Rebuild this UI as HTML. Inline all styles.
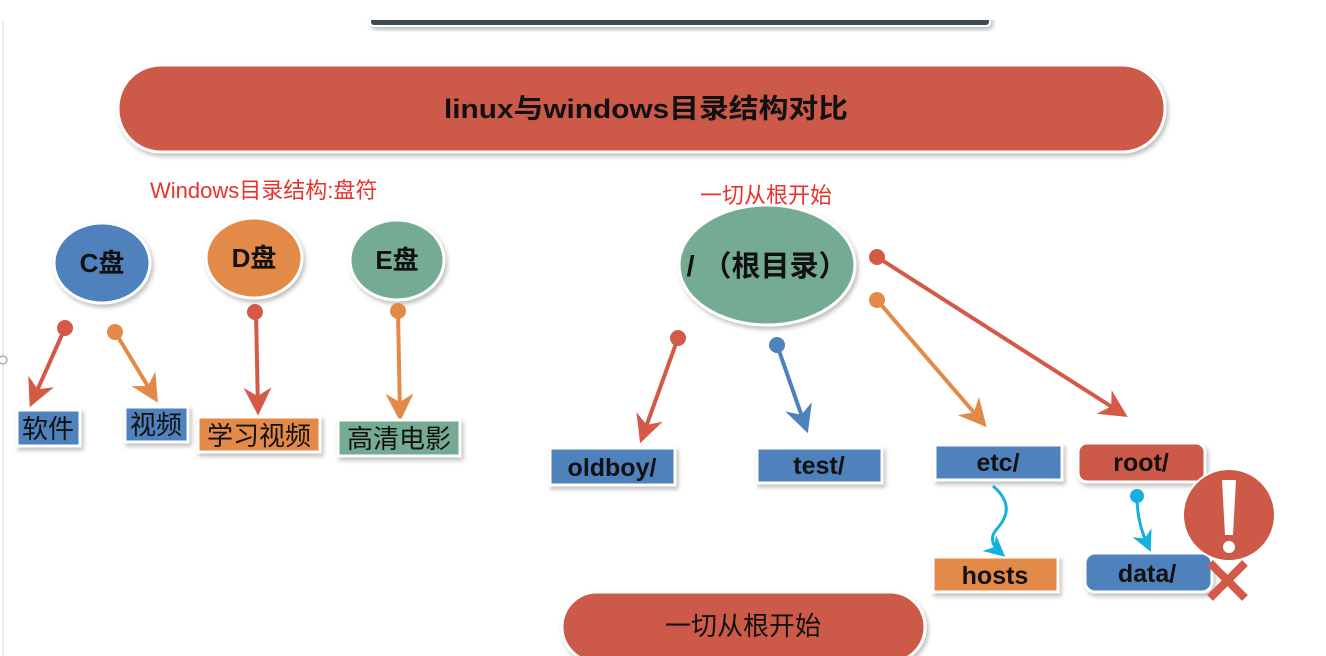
<!DOCTYPE html>
<html><head><meta charset="utf-8"><style>
html,body{margin:0;padding:0;background:#fff;}
svg{display:block;}
text{font-family:"Liberation Sans","Noto Sans CJK SC",sans-serif;}
</style></head><body>
<svg width="1326" height="656" viewBox="0 0 1326 656" xmlns="http://www.w3.org/2000/svg">
<defs>
<filter id="sh" x="-20%" y="-20%" width="140%" height="150%"><feDropShadow dx="2" dy="3" stdDeviation="2" flood-color="#000" flood-opacity="0.25"/></filter>
<marker id="ar" viewBox="0 0 10 10" refX="8" refY="5" markerWidth="7" markerHeight="7" orient="auto"><path d="M0,0 L10,5 L0,10 L3,5 z" fill="#d45a47"/></marker>
<marker id="ao" viewBox="0 0 10 10" refX="8" refY="5" markerWidth="7" markerHeight="7" orient="auto"><path d="M0,0 L10,5 L0,10 L3,5 z" fill="#e38a48"/></marker>
<marker id="ab" viewBox="0 0 10 10" refX="8" refY="5" markerWidth="7" markerHeight="7" orient="auto"><path d="M0,0 L10,5 L0,10 L3,5 z" fill="#4f81bd"/></marker>
<marker id="ac" viewBox="0 0 10 10" refX="8" refY="5" markerWidth="7" markerHeight="7" orient="auto"><path d="M0,0 L10,5 L0,10 L3,5 z" fill="#17aee0"/></marker>
</defs>
<line x1="3" y1="0" x2="3" y2="656" stroke="#ddd" stroke-width="1"/>
<circle cx="3" cy="360" r="4" fill="#fff" stroke="#888" stroke-width="1"/>
<rect x="370" y="8" width="620" height="18" rx="4" fill="#3e4a52" stroke="#fff" stroke-width="2" filter="url(#sh)"/>
<rect x="-10" y="0" width="1340" height="20" fill="#fff"/>
<rect x="118" y="65" width="1047" height="87" rx="43" fill="#cd5a48" stroke="#fff" stroke-width="3" filter="url(#sh)"/>
<text x="444" y="118" font-size="27" font-weight="bold" textLength="404" lengthAdjust="spacingAndGlyphs" fill="#111">linux与windows目录结构对比</text>
<text x="150" y="198" font-size="22" fill="#e8322e">Windows目录结构:盘符</text>
<text x="700" y="203" font-size="22" fill="#e8322e">一切从根开始</text>
<ellipse cx="102" cy="263" rx="48" ry="40" fill="#4f81bd" stroke="#fff" stroke-width="3" filter="url(#sh)"/>
<text x="102" y="272" font-size="26" font-weight="bold" text-anchor="middle" fill="#111">C盘</text>
<ellipse cx="254" cy="258" rx="48" ry="40" fill="#e38a48" stroke="#fff" stroke-width="3" filter="url(#sh)"/>
<text x="254" y="267" font-size="26" font-weight="bold" text-anchor="middle" fill="#111">D盘</text>
<ellipse cx="397" cy="260" rx="47" ry="40" fill="#76ab93" stroke="#fff" stroke-width="3" filter="url(#sh)"/>
<text x="397" y="269" font-size="26" font-weight="bold" text-anchor="middle" fill="#111">E盘</text>
<g stroke-width="4" fill="none">
<line x1="65" y1="328" x2="32" y2="402" stroke="#d45a47" marker-end="url(#ar)"/>
<line x1="115" y1="332" x2="155" y2="398" stroke="#e38a48" marker-end="url(#ao)"/>
<line x1="256" y1="312" x2="258" y2="410" stroke="#d45a47" marker-end="url(#ar)"/>
<line x1="398" y1="311" x2="400" y2="416" stroke="#e38a48" marker-end="url(#ao)"/>
</g>
<circle cx="65" cy="328" r="8" fill="#d45a47"/>
<circle cx="115" cy="332" r="8" fill="#e38a48"/>
<circle cx="255" cy="312" r="8" fill="#d45a47"/>
<circle cx="398" cy="311" r="8" fill="#e38a48"/>
<g stroke="#fff" stroke-width="3" filter="url(#sh)">
<rect x="17" y="410" width="63" height="36" fill="#4f81bd"/>
<rect x="125" y="407" width="63" height="35" fill="#4f81bd"/>
<rect x="198" y="417" width="122" height="35" fill="#e38a48"/>
<rect x="338" y="420" width="122" height="36" fill="#76ab93"/>
</g>
<g font-size="26" fill="#111">
<text x="48" y="438" text-anchor="middle">软件</text>
<text x="156" y="434" text-anchor="middle">视频</text>
<text x="259" y="445" text-anchor="middle">学习视频</text>
<text x="399" y="448" text-anchor="middle">高清电影</text>
</g>
<ellipse cx="767" cy="265" rx="88" ry="60" fill="#76ab93" stroke="#fff" stroke-width="3" filter="url(#sh)"/>
<text x="767" y="276" font-size="29" font-weight="bold" text-anchor="middle" fill="#111">/ （根目录）</text>
<g stroke-width="4" fill="none">
<line x1="678" y1="338" x2="642" y2="438" stroke="#d45a47" marker-end="url(#ar)"/>
<line x1="777" y1="345" x2="806" y2="428" stroke="#4f81bd" marker-end="url(#ab)"/>
<line x1="877" y1="300" x2="983" y2="423" stroke="#e38a48" marker-end="url(#ao)"/>
<line x1="877" y1="257" x2="1123" y2="414" stroke="#d45a47" marker-end="url(#ar)"/>
</g>
<circle cx="678" cy="338" r="8" fill="#d45a47"/>
<circle cx="777" cy="345" r="8" fill="#4f81bd"/>
<circle cx="877" cy="300" r="8" fill="#e38a48"/>
<circle cx="877" cy="257" r="8" fill="#d45a47"/>
<g stroke="#fff" stroke-width="3" filter="url(#sh)">
<rect x="550" y="448" width="125" height="37" fill="#4f81bd"/>
<rect x="757" y="448" width="125" height="35" fill="#4f81bd"/>
<rect x="935" y="445" width="127" height="35" fill="#4f81bd"/>
<rect x="1078" y="443" width="127" height="39" rx="9" fill="#cd5a48"/>
<rect x="933" y="557" width="125" height="35" fill="#e38a48"/>
<rect x="1085" y="553" width="127" height="39" rx="10" fill="#4f81bd"/>
</g>
<g font-size="25" font-weight="bold" fill="#111" text-anchor="middle">
<text x="612" y="476">oldboy/</text>
<text x="819" y="474">test/</text>
<text x="998" y="471">etc/</text>
<text x="1141" y="471">root/</text>
<text x="995" y="584">hosts</text>
<text x="1147" y="582">data/</text>
</g>
<path d="M993,486 C1015,505 1005,520 996,530 C988,540 995,548 1002,554" stroke="#17aee0" stroke-width="3" fill="none" marker-end="url(#ac)"/>
<circle cx="1137" cy="496" r="7" fill="#17aee0"/>
<path d="M1137,496 C1137,520 1143,535 1149,548" stroke="#17aee0" stroke-width="3" fill="none" marker-end="url(#ac)"/>
<circle cx="1229" cy="515" r="46" fill="#cd5a48" stroke="#fff" stroke-width="2"/>
<path d="M1222,480 L1236,480 L1233,535 L1225,535 z" fill="#fff"/>
<circle cx="1229" cy="547" r="6" fill="#fff"/>
<g stroke="#d45a47" stroke-width="8">
<line x1="1210" y1="563" x2="1245" y2="598"/>
<line x1="1245" y1="563" x2="1210" y2="598"/>
</g>
<rect x="562" y="592" width="363" height="70" rx="35" fill="#cd5a48" stroke="#fff" stroke-width="3" filter="url(#sh)"/>
<text x="743" y="635" font-size="26" text-anchor="middle" fill="#111">一切从根开始</text>
</svg>
</body></html>
